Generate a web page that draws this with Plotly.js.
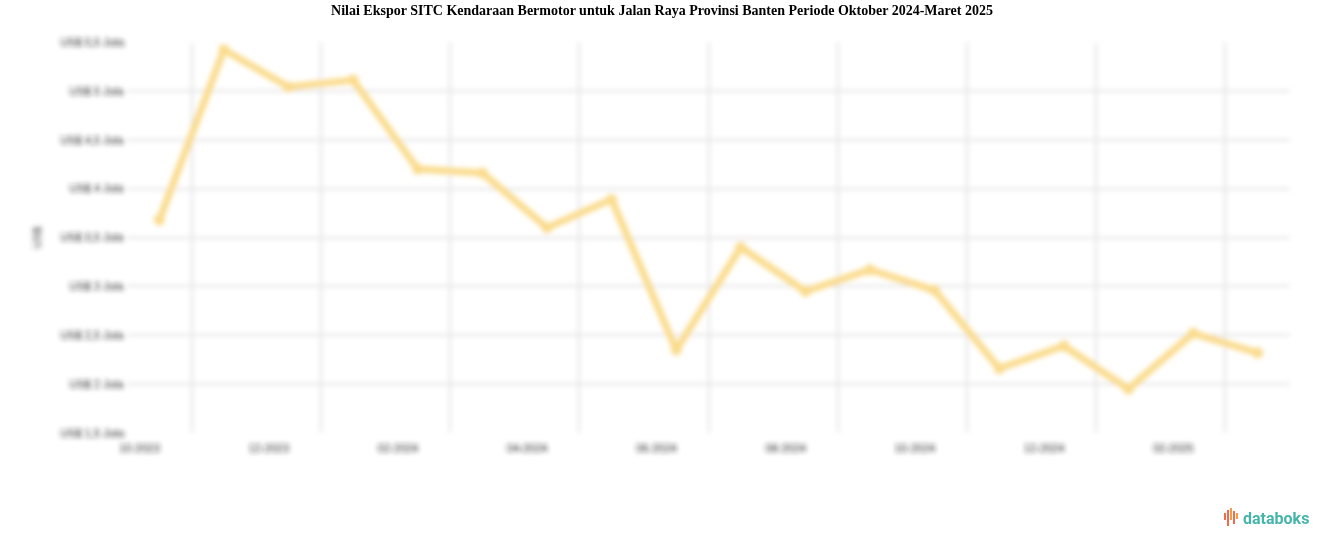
<!DOCTYPE html>
<html>
<head>
<meta charset="utf-8">
<script src="https://cdn.plot.ly/plotly-3.0.1.min.js"></script>
<style>
  html, body { margin: 0; padding: 0; background: #fff; }
  #chart { width: 1324px; height: 547px; }
</style>
</head>
<body>
<div id="chart"></div>
<script>
// Months Oct 2023 .. Mar 2025
const months = ["10-2023","11-2023","12-2023","01-2024","02-2024","03-2024","04-2024","05-2024","06-2024",
                "07-2024","08-2024","09-2024","10-2024","11-2024","12-2024","01-2025","02-2025","03-2025"];
// Export value (US$ juta)
const values = [3.68, 5.42, 5.04, 5.11, 4.20, 4.16, 3.60, 3.89, 2.35,
                3.40, 2.95, 3.17, 2.96, 2.16, 2.39, 1.95, 2.52, 2.32];
// X tick labels (every second month)
const xTickText = ["10-2023","12-2023","02-2024","04-2024","06-2024","08-2024","10-2024","12-2024","02-2025"];
// Y ticks
const yTickVals = [1.5, 2, 2.5, 3, 3.5, 4, 4.5, 5, 5.5];
const yTickText = ["US$ 1,5 Juta","US$ 2 Juta","US$ 2,5 Juta","US$ 3 Juta","US$ 3,5 Juta",
                   "US$ 4 Juta","US$ 4,5 Juta","US$ 5 Juta","US$ 5,5 Juta"];

const xIdx = months.map((m, i) => i);
const xTickVals = xTickText.map((t, k) => 2 * k + 0.5);

const trace = {
  x: xIdx,
  y: values,
  text: months,
  type: 'scatter',
  mode: 'lines+markers',
  line: { color: '#fadb8c', width: 7 },
  marker: { color: '#fadb8c', size: 11 },
  hoverinfo: 'text+y'
};

// databoks logo bars (paper coords)
const L = 127, W = 1163, B = 433, H = 391;
const px = v => (v - L) / W;
const py = v => (B - v) / H;
const logoBars = [
  [1225, 513, 520, '#f26b4f'],
  [1228, 510, 526, '#f26b4f'],
  [1231, 508, 520, '#f39a4c'],
  [1234, 511, 524, '#f26b4f'],
  [1237, 513, 519, '#f39a4c']
];
const shapes = logoBars.map(b => ({
  type: 'line', xref: 'paper', yref: 'paper',
  x0: px(b[0]), x1: px(b[0]), y0: py(b[1]), y1: py(b[2]),
  line: { color: b[3], width: 2 }
}));

const layout = {
  width: 1324, height: 547,
  paper_bgcolor: '#ffffff', plot_bgcolor: '#ffffff',
  margin: { l: 127, r: 34, t: 42, b: 114 },
  showlegend: false,
  title: {
    text: '<b>Nilai Ekspor SITC Kendaraan Bermotor untuk Jalan Raya Provinsi Banten Periode Oktober 2024-Maret 2025</b>',
    font: { family: 'Liberation Serif, Times New Roman, serif', size: 14, color: '#000' },
    x: 0.5, xanchor: 'center', xref: 'container',
    y: 1 - 10 / 547, yref: 'container', yanchor: 'middle'
  },
  xaxis: {
    range: [-0.5, 17.5],
    tickmode: 'array', tickvals: xTickVals, ticktext: xTickText,
    ticklabelshift: -52, ticklabelstandoff: 7,
    showgrid: true, gridcolor: '#e2e2e2', gridwidth: 2,
    zeroline: false, showline: false, ticks: '',
    tickfont: { family: 'Liberation Sans, Arial, sans-serif', size: 11, color: '#222' }
  },
  yaxis: {
    range: [1.5, 5.5],
    tickmode: 'array', tickvals: yTickVals, ticktext: yTickText,
    showgrid: true, gridcolor: '#e2e2e2', gridwidth: 2,
    zeroline: false, showline: false, ticks: '',
    ticklabelstandoff: 2,
    tickfont: { family: 'Liberation Sans, Arial, sans-serif', size: 11, color: '#222' },
    title: { text: 'US$', standoff: 16,
             font: { family: 'Liberation Sans, Arial, sans-serif', size: 11, color: '#333' } }
  },
  shapes: shapes,
  annotations: [{
    xref: 'paper', yref: 'paper', x: px(1241), y: py(518),
    xanchor: 'left', yanchor: 'middle', showarrow: false,
    text: '<b>databoks</b>',
    font: { family: 'Roboto, Open Sans, sans-serif', size: 16, color: '#45b5ac' }
  }]
};

Plotly.newPlot('chart', [trace], layout, { displayModeBar: false, staticPlot: true }).then(gd => {
  // Soft focus, as in the reference picture
  const svgs = gd.querySelectorAll('svg.main-svg');
  const ns = 'http://www.w3.org/2000/svg';
  svgs.forEach((svg, i) => {
    let defs = svg.querySelector('defs');
    if (!defs) { defs = document.createElementNS(ns, 'defs'); svg.insertBefore(defs, svg.firstChild); }
    const mk = (id, pad) => {
      const f = document.createElementNS(ns, 'filter');
      f.setAttribute('id', id);
      f.setAttribute('x', (-pad) + '%'); f.setAttribute('y', (-pad) + '%');
      f.setAttribute('width', (100 + 2 * pad) + '%'); f.setAttribute('height', (100 + 2 * pad) + '%');
      const g = document.createElementNS(ns, 'feGaussianBlur');
      g.setAttribute('stdDeviation', '2.8');
      f.appendChild(g); defs.appendChild(f);
    };
    mk('softblur' + i, 10);
    mk('softblurT' + i, 150);
    svg.querySelectorAll('.cartesianlayer').forEach(el => el.setAttribute('filter', 'url(#softblur' + i + ')'));
    svg.querySelectorAll('.g-ytitle').forEach(el => el.setAttribute('filter', 'url(#softblurT' + i + ')'));
  });
});
</script>
</body>
</html>
